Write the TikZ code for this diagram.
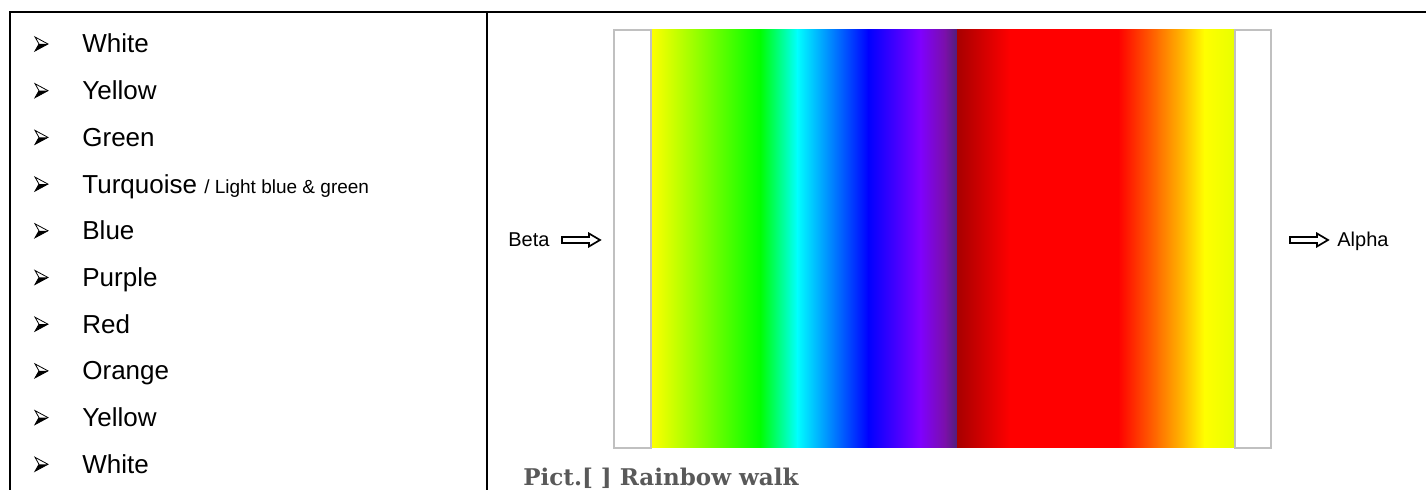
\documentclass[tikz,border=0pt]{standalone}
\usepackage{fontspec}
\setmainfont{Liberation Sans}
\newfontfamily\capfont{DejaVu Serif}
\definecolor{rwyellow}{HTML}{FFFF00}
\definecolor{rwgreen}{HTML}{00FF00}
\definecolor{rwcyan}{HTML}{00FFFF}
\definecolor{rwblue}{HTML}{0000FF}
\definecolor{rwviolet}{HTML}{7F00FF}
\definecolor{rwpurple}{HTML}{7A10A8}
\definecolor{rwdpurple}{HTML}{4E1F78}
\definecolor{rwdred}{HTML}{A80000}
\definecolor{rwred}{HTML}{FF0000}
\definecolor{rworange}{HTML}{FF7000}
\definecolor{rwgold}{HTML}{FFC000}
\definecolor{rwlime}{HTML}{E8FF00}
\definecolor{boxgray}{HTML}{C0C0C0}
\definecolor{capgray}{HTML}{595959}
\begin{document}
\begin{tikzpicture}[x=0.5pt,y=-0.5pt,
  frameline/.style={line width=1.1pt,black},
  itemtext/.style={anchor=base west,inner sep=0pt,font=\fontsize{13pt}{15pt}\selectfont},
  sidetext/.style={anchor=base west,inner sep=0pt,font=\fontsize{10pt}{12pt}\selectfont},
  edgebox/.style={draw=boxgray,line width=0.6pt,fill=white},
  fatarrow/.style={draw=black,line width=0.85pt,fill=white,line join=miter},
  arrowbullet/.pic={
    \draw[line width=0.4pt,fill=white] (6.5,0) -- (-6.5,-7) -- (-2.5,0) -- (-6.5,7) -- cycle;
    \fill[black] (6.5,0) -- (-2.5,0) -- (-6.5,7) -- cycle;
  }]
\useasboundingbox (0,0) rectangle (1426,490);
\fill[white] (0,0) rectangle (1426,490);
% frame
\coordinate (tl) at (10,12);
\coordinate (tr) at (1426,12);
\coordinate (bl) at (10,490);
\coordinate (dt) at (487,12);
\coordinate (db) at (487,490);
\draw[frameline] (tr) -- (tl) -- (bl);
\draw[frameline] (dt) -- (db);
% list
\foreach \t [count=\i] in {White,Yellow,Green,Turquoise,Blue,Purple,Red,Orange,Yellow,White}{
  \pgfmathsetmacro{\yb}{53+46.7*(\i-1)}
  \pic at (41.5,\yb-9) {arrowbullet};
  \ifnum\i=4
    \node[itemtext] (item\i) at (82,\yb) {Turquoise {\fontsize{9.5pt}{11pt}\selectfont / Light blue \& green}};
  \else
    \node[itemtext] (item\i) at (82,\yb) {\t};
  \fi
}
% rainbow
\shade[left color=rwyellow,right color=rwgreen] (651,30) rectangle (760.5,448);
\shade[left color=rwgreen,right color=rwcyan] (760,30) rectangle (797.5,448);
\shade[left color=rwcyan,right color=rwblue] (797,30) rectangle (868.5,448);
\shade[left color=rwblue,right color=rwviolet] (868,30) rectangle (920.5,448);
\shade[left color=rwviolet,right color=rwpurple] (920,30) rectangle (945.5,448);
\shade[left color=rwpurple,right color=rwdpurple] (945,30) rectangle (957.5,448);
\shade[left color=rwdred,right color=rwred] (957,30) rectangle (1010.5,448);
\shade[left color=rwred,right color=rwred] (1010,30) rectangle (1118.5,448);
\shade[left color=rwred,right color=rworange] (1118,30) rectangle (1158.5,448);
\shade[left color=rworange,right color=rwgold] (1158,30) rectangle (1185.5,448);
\shade[left color=rwgold,right color=rwyellow] (1185,30) rectangle (1204.5,448);
\shade[left color=rwyellow,right color=rwlime] (1204,30) rectangle (1235,448);
\draw[edgebox] (614,30) rectangle (651,448);
\draw[edgebox] (1235,30) rectangle (1271,448);
% labels and arrows
\node[sidetext] (beta) at (508,247) {Beta};
\node[sidetext] (alpha) at (1337,247) {Alpha};
\draw[fatarrow] (562,237) -- (589,237) -- (589,233.5) -- (600,240) -- (589,246.5) -- (589,243) -- (562,243) -- cycle;
\draw[fatarrow] (1290,237) -- (1317,237) -- (1317,233.5) -- (1328,240) -- (1317,246.5) -- (1317,243) -- (1290,243) -- cycle;
% caption
\node[anchor=base west,inner sep=0pt,text=capgray,font=\capfont\bfseries\fontsize{11.5pt}{13pt}\selectfont] (caption) at (523,486) {Pict.[ ] Rainbow walk};
\end{tikzpicture}
\end{document}
